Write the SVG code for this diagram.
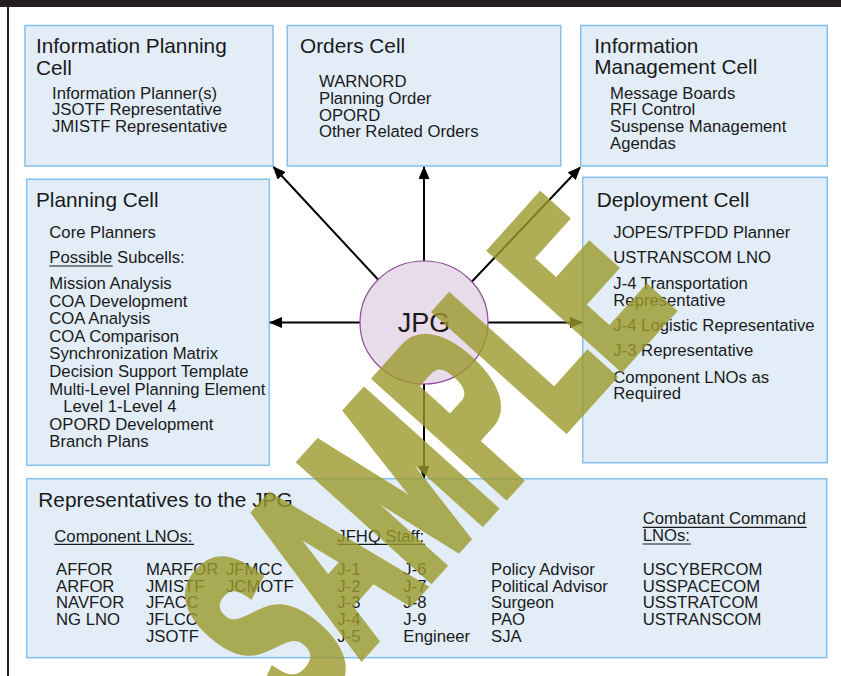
<svg xmlns="http://www.w3.org/2000/svg" width="841" height="676" viewBox="0 0 841 676">
<style>
.box{fill:#e2edf8;stroke:#85c0ea;stroke-width:1.5}
text{font-family:"Liberation Sans",Arial,sans-serif;fill:#1a1a1a}
.t{font-size:20.8px}
.i{font-size:16.7px}
.u{stroke:#1a1a1a;stroke-width:1.2}
.c{stroke:#000;stroke-width:2;fill:none}
</style>
<defs>
<marker id="ah" markerUnits="userSpaceOnUse" markerWidth="13" markerHeight="11" refX="12" refY="5.5" orient="auto">
<path d="M0,0 L13,5.5 L0,11 z" fill="#000"/>
</marker>
</defs>
<rect x="0" y="0" width="841" height="676" fill="#fff"/>
<rect x="0" y="0" width="841" height="7" fill="#231f20"/>
<rect x="7" y="0" width="2" height="676" fill="#231f20"/>

<g id="info-planning">
<rect class="box" x="25" y="25.5" width="248" height="140.5"/>
<text class="t" x="36" y="53">Information Planning</text>
<text class="t" x="36" y="75">Cell</text>
<text class="i" x="52" y="98.5">Information Planner(s)</text>
<text class="i" x="52" y="115.2">JSOTF Representative</text>
<text class="i" x="52" y="131.9">JMISTF Representative</text>
</g>

<g id="orders">
<rect class="box" x="287.3" y="25.5" width="273.4" height="140.5"/>
<text class="t" x="300" y="52.5">Orders Cell</text>
<text class="i" x="319" y="87.3">WARNORD</text>
<text class="i" x="319" y="104">Planning Order</text>
<text class="i" x="319" y="120.7">OPORD</text>
<text class="i" x="319" y="137.4">Other Related Orders</text>
</g>

<g id="info-management">
<rect class="box" x="580.7" y="25.5" width="246.6" height="140.5"/>
<text class="t" x="594.3" y="52.5">Information</text>
<text class="t" x="594.3" y="74">Management Cell</text>
<text class="i" x="610" y="98.5">Message Boards</text>
<text class="i" x="610" y="115.2">RFI Control</text>
<text class="i" x="610" y="131.9">Suspense Management</text>
<text class="i" x="610" y="148.6">Agendas</text>
</g>

<g id="planning">
<rect class="box" x="26.7" y="179.3" width="242.6" height="286"/>
<text class="t" x="36" y="206.7">Planning Cell</text>
<text class="i" x="49.3" y="237.7">Core Planners</text>
<text class="i" x="49.3" y="263.3">Possible Subcells:</text>
<line class="u" x1="49.3" y1="266" x2="112.7" y2="266"/>
<text class="i" x="49.3" y="289">Mission Analysis</text>
<text class="i" x="49.3" y="306.6">COA Development</text>
<text class="i" x="49.3" y="324.2">COA Analysis</text>
<text class="i" x="49.3" y="341.8">COA Comparison</text>
<text class="i" x="49.3" y="359.4">Synchronization Matrix</text>
<text class="i" x="49.3" y="377">Decision Support Template</text>
<text class="i" x="49.3" y="394.6">Multi-Level Planning Element</text>
<text class="i" x="63.3" y="412.2">Level 1-Level 4</text>
<text class="i" x="49.3" y="429.8">OPORD Development</text>
<text class="i" x="49.3" y="447.4">Branch Plans</text>
</g>

<g id="deployment">
<rect class="box" x="582.7" y="177.3" width="244.6" height="285.4"/>
<text class="t" x="596.7" y="207.3">Deployment Cell</text>
<text class="i" x="613.3" y="237.7">JOPES/TPFDD Planner</text>
<text class="i" x="613.3" y="262.7">USTRANSCOM LNO</text>
<text class="i" x="613.3" y="288.7">J-4 Transportation</text>
<text class="i" x="613.3" y="305.5">Representative</text>
<text class="i" x="613.3" y="331">J-4 Logistic Representative</text>
<text class="i" x="613.3" y="356">J-3 Representative</text>
<text class="i" x="613.3" y="382.5">Component LNOs as</text>
<text class="i" x="613.3" y="399.3">Required</text>
</g>

<g id="representatives">
<rect class="box" x="26.7" y="478.7" width="800" height="179"/>
<text class="t" x="38.3" y="506.7">Representatives to the JPG</text>
<text class="i" x="54.3" y="541.7">Component LNOs:</text>
<line class="u" x1="54.3" y1="544.3" x2="194" y2="544.3"/>
<text class="i" x="337.3" y="541.7">JFHQ Staff:</text>
<line class="u" x1="337.3" y1="544.3" x2="425" y2="544.3"/>
<text class="i" x="642.7" y="524.3">Combatant Command</text>
<line class="u" x1="642.7" y1="527.3" x2="806.7" y2="527.3"/>
<text class="i" x="642.7" y="541">LNOs:</text>
<line class="u" x1="642.7" y1="544" x2="691" y2="544"/>
<text class="i" x="56" y="575">AFFOR</text>
<text class="i" x="56" y="591.7">ARFOR</text>
<text class="i" x="56" y="608.4">NAVFOR</text>
<text class="i" x="56" y="625.1">NG LNO</text>
<text class="i" x="146" y="575">MARFOR</text>
<text class="i" x="146" y="591.7">JMISTF</text>
<text class="i" x="146" y="608.4">JFACC</text>
<text class="i" x="146" y="625.1">JFLCC</text>
<text class="i" x="146" y="641.8">JSOTF</text>
<text class="i" x="226" y="575">JFMCC</text>
<text class="i" x="226" y="591.7">JCMOTF</text>
<text class="i" x="337.3" y="575">J-1</text>
<text class="i" x="337.3" y="591.7">J-2</text>
<text class="i" x="337.3" y="608.4">J-3</text>
<text class="i" x="337.3" y="625.1">J-4</text>
<text class="i" x="337.3" y="641.8">J-5</text>
<text class="i" x="403.3" y="575">J-6</text>
<text class="i" x="403.3" y="591.7">J-7</text>
<text class="i" x="403.3" y="608.4">J-8</text>
<text class="i" x="403.3" y="625.1">J-9</text>
<text class="i" x="403.3" y="641.8">Engineer</text>
<text class="i" x="491" y="575">Policy Advisor</text>
<text class="i" x="491" y="591.7">Political Advisor</text>
<text class="i" x="491" y="608.4">Surgeon</text>
<text class="i" x="491" y="625.1">PAO</text>
<text class="i" x="491" y="641.8">SJA</text>
<text class="i" x="642.7" y="575">USCYBERCOM</text>
<text class="i" x="642.7" y="591.7">USSPACECOM</text>
<text class="i" x="642.7" y="608.4">USSTRATCOM</text>
<text class="i" x="642.7" y="625.1">USTRANSCOM</text>
</g>

<g id="connectors">
<line class="c" x1="424" y1="261" x2="424" y2="167" marker-end="url(#ah)"/>
<line class="c" x1="424" y1="384" x2="424" y2="478" marker-end="url(#ah)"/>
<line class="c" x1="360" y1="322.5" x2="270" y2="322.5" marker-end="url(#ah)"/>
<line class="c" x1="488" y1="322.5" x2="582" y2="322.5" marker-end="url(#ah)"/>
<line class="c" x1="378" y1="279.5" x2="273.5" y2="167" marker-end="url(#ah)"/>
<line class="c" x1="472" y1="281.5" x2="580" y2="167.5" marker-end="url(#ah)"/>
</g>

<g id="jpg">
<ellipse cx="424" cy="322.5" rx="64" ry="61.5" fill="#e8dbea" stroke="#8e4a96" stroke-width="1.2"/>
<text x="424" y="332" text-anchor="middle" style="font-size:27px">JPG</text>
</g>

<g id="watermark" opacity="0.8">
<text transform="translate(420,455) rotate(-48) scale(0.55,1)" x="0" y="88" text-anchor="middle" style="font-size:245px;font-weight:bold;fill:#9c9a2c;stroke:#9c9a2c;stroke-width:14;stroke-linejoin:miter">SAMPLE</text>
</g>
</svg>
